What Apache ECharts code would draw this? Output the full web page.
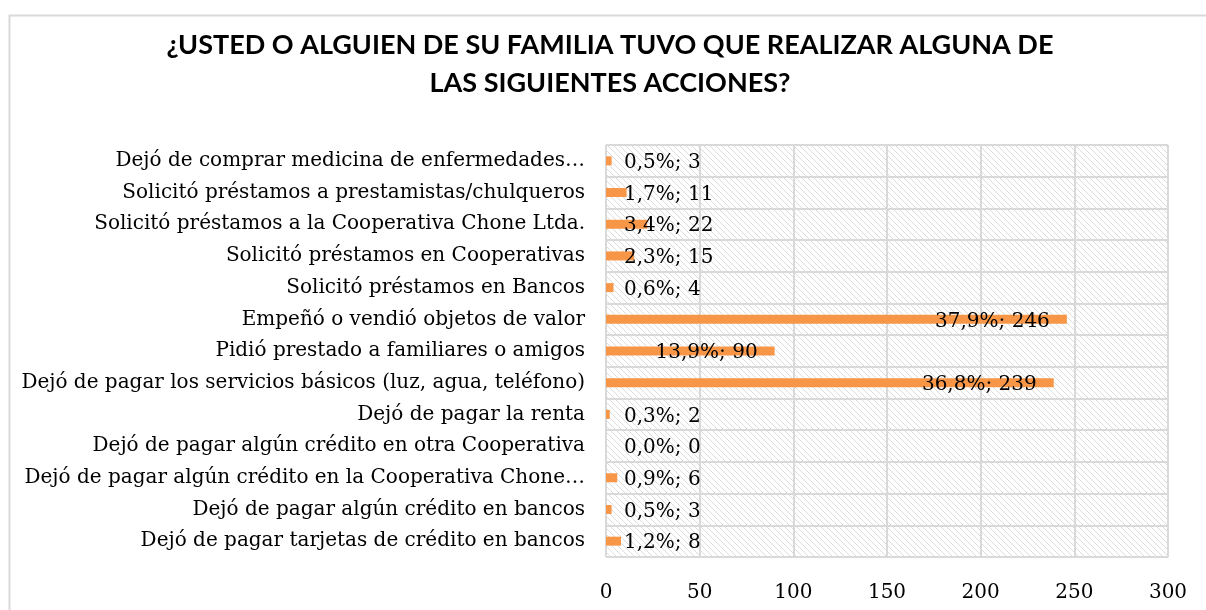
<!DOCTYPE html>
<html>
<head>
<meta charset="utf-8">
<script src="https://cdn.jsdelivr.net/npm/echarts@6/dist/echarts.min.js"></script>
<style>
html,body{margin:0;padding:0;background:#fff;}
#chart{width:1206px;height:610px;}
</style>
</head>
<body>
<div id="chart"></div>
<script>
const titleText = '¿USTED O ALGUIEN DE SU FAMILIA TUVO QUE REALIZAR ALGUNA DE\nLAS SIGUIENTES ACCIONES?';
const categories = [
  'Dejó de comprar medicina de enfermedades…',
  'Solicitó préstamos a prestamistas/chulqueros',
  'Solicitó préstamos a la Cooperativa Chone Ltda.',
  'Solicitó préstamos en Cooperativas',
  'Solicitó préstamos en Bancos',
  'Empeñó o vendió objetos de valor',
  'Pidió prestado a familiares o amigos',
  'Dejó de pagar los servicios básicos (luz, agua, teléfono)',
  'Dejó de pagar la renta',
  'Dejó de pagar algún crédito en otra Cooperativa',
  'Dejó de pagar algún crédito en la Cooperativa Chone…',
  'Dejó de pagar algún crédito en bancos',
  'Dejó de pagar tarjetas de crédito en bancos'
];
const values = [3, 11, 22, 15, 4, 246, 90, 239, 2, 0, 6, 3, 8];
const percents = ['0,5%', '1,7%', '3,4%', '2,3%', '0,6%', '37,9%', '13,9%', '36,8%', '0,3%', '0,0%', '0,9%', '0,5%', '1,2%'];
const xTicks = [0, 50, 100, 150, 200, 250, 300];

// hatched background pattern
const pc = document.createElement('canvas');
pc.width = 6; pc.height = 6;
const g = pc.getContext('2d');
g.fillStyle = '#ffffff'; g.fillRect(0, 0, 6, 6);
g.strokeStyle = '#dcdcdc'; g.lineWidth = 1;
g.beginPath();
g.moveTo(-1, -1); g.lineTo(7, 7);
g.moveTo(-1, 5); g.lineTo(1, 7);
g.moveTo(5, -1); g.lineTo(7, 1);
g.stroke();

const serif = 'DejaVu Serif';
const fs = 20;

const data = values.map((v, i) => {
  const big = v > 50;
  return {
    value: v,
    label: {
      position: big ? 'insideRight' : 'insideLeft',
      distance: big ? 17 : 18,
      formatter: percents[i] + '; ' + v
    }
  };
});

const chart = echarts.init(document.getElementById('chart'), null, {renderer: 'canvas'});
chart.setOption({
  animation: false,
  backgroundColor: '#ffffff',
  title: {
    text: titleText,
    left: 605,
    top: 21,
    textAlign: 'center',
    textStyle: {fontFamily: 'Lato', fontWeight: 'bold', fontSize: 27, color: '#000', lineHeight: 38}
  },
  graphic: [{
    type: 'rect', left: 7, top: 13, z: -1,
    shape: {width: 1220, height: 620},
    style: {fill: 'none', stroke: '#d9d9d9', lineWidth: 2}
  }],
  grid: {
    left: 606, right: 38, top: 145, bottom: 53,
    show: true,
    backgroundColor: {image: pc, repeat: 'repeat'},
    borderWidth: 0
  },
  xAxis: {
    type: 'value',
    min: xTicks[0], max: xTicks[xTicks.length - 1], interval: 50,
    axisLine: {show: false},
    axisTick: {show: false},
    splitLine: {show: true, lineStyle: {color: '#d9d9d9', width: 2}},
    axisLabel: {fontFamily: serif, fontSize: fs, color: '#000', margin: 26}
  },
  yAxis: {
    type: 'category',
    inverse: true,
    data: categories,
    axisLine: {show: false},
    axisTick: {show: false},
    splitLine: {show: true, lineStyle: {color: '#d9d9d9', width: 2}},
    axisLabel: {fontFamily: serif, fontSize: fs, color: '#000', margin: 21, padding: [5, 0, 0, 0]}
  },
  series: [{
    type: 'bar',
    data: data,
    barWidth: 9,
    itemStyle: {color: '#F79646'},
    label: {show: true, fontFamily: serif, fontSize: fs, color: '#000', offset: [0, 2]}
  }]
});
</script>
</body>
</html>
